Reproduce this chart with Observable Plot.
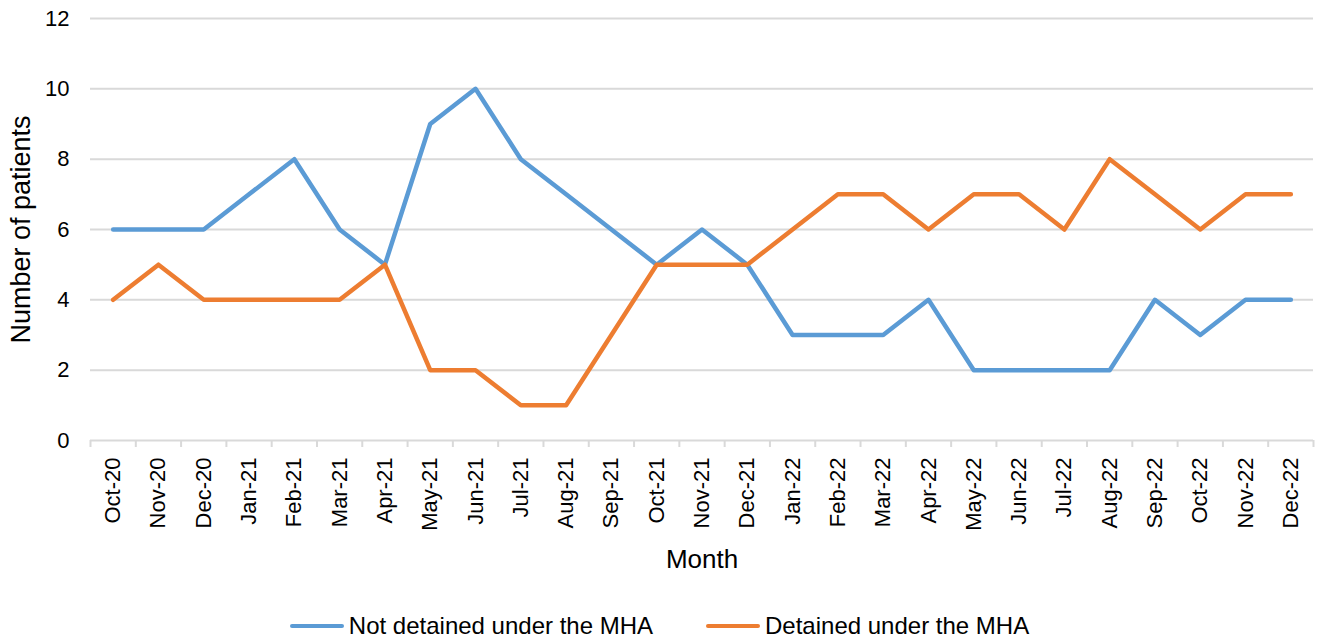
<!DOCTYPE html>
<html>
<head>
<meta charset="utf-8">
<script src="https://cdn.jsdelivr.net/npm/d3@7"></script>
<script src="https://cdn.jsdelivr.net/npm/@observablehq/plot@0.6"></script>
<style>
  html, body { margin: 0; padding: 0; background: #fff; }
  body { width: 1319px; height: 641px; overflow: hidden; font-family: "Liberation Sans", Arial, sans-serif; }
  #chart svg { display: block; }
  .legend { display: flex; justify-content: center; align-items: center; height: 31px; padding-top: 4px; font-size: 24px; color: #000; }
  .legend .item { display: flex; align-items: center; }
  .legend .swatch { width: 54px; height: 4px; border-radius: 2px; margin-right: 5px; }
  .legend .gap { width: 53px; }
</style>
</head>
<body>
<div id="chart"></div>
<div class="legend" id="legend"></div>
<script>
const months = ["Oct-20","Nov-20","Dec-20","Jan-21","Feb-21","Mar-21","Apr-21","May-21","Jun-21","Jul-21","Aug-21","Sep-21","Oct-21","Nov-21","Dec-21","Jan-22","Feb-22","Mar-22","Apr-22","May-22","Jun-22","Jul-22","Aug-22","Sep-22","Oct-22","Nov-22","Dec-22"];
const notDetained = [6,6,6,7,8,6,5,9,10,8,7,6,5,6,5,3,3,3,4,2,2,2,2,4,3,4,4];
const detained    = [4,5,4,4,4,4,5,2,2,1,1,3,5,5,5,6,7,7,6,7,7,6,8,7,6,7,7];
const seriesNames = ["Not detained under the MHA", "Detained under the MHA"];
const seriesColors = ["#5B9BD5", "#ED7D31"];
const yTicks = [0,2,4,6,8,10,12];

const rows = [];
months.forEach((m, i) => {
  rows.push({i, month: m, value: notDetained[i], series: seriesNames[0]});
  rows.push({i, month: m, value: detained[i], series: seriesNames[1]});
});
const idx = d3.range(months.length);
const bounds = d3.range(months.length + 1).map(i => i - 0.5);

const chart = Plot.plot({
  width: 1319,
  height: 606,
  marginLeft: 90,
  marginRight: 6,
  marginTop: 18,
  marginBottom: 166,
  style: {fontFamily: "'Liberation Sans', Arial, sans-serif", fontSize: "22px", color: "#000", background: "#fff"},
  x: {type: "linear", domain: [-0.5, months.length - 0.5]},
  y: {domain: [0, 12]},
  color: {domain: seriesNames, range: seriesColors},
  marks: [
    Plot.gridY({ticks: yTicks, stroke: "#d9d9d9", strokeOpacity: 1, strokeWidth: 2}),
    Plot.axisX({ticks: bounds, tickSize: 7, tickFormat: () => "", stroke: "#d9d9d9", strokeWidth: 2, strokeOpacity: 1, label: null}),
    Plot.axisX({ticks: idx, tickSize: 0, tickPadding: 17, tickRotate: -90, tickFormat: i => months[i], fontSize: 22, label: "Month", labelAnchor: "center", labelArrow: "none", labelOffset: 127}),
    Plot.axisY({ticks: yTicks, tickSize: 0, tickPadding: 21, fontSize: 22, label: "Number of patients", labelAnchor: "center", labelArrow: "none", labelOffset: 80}),
    Plot.line(rows, {x: "i", y: "value", z: "series", stroke: "series", strokeWidth: 4.5, strokeLinejoin: "round", strokeLinecap: "round"})
  ]
});
chart.querySelectorAll("g[aria-label='x-axis label'] text").forEach(t => t.setAttribute("font-size", "26"));
chart.querySelectorAll("g[aria-label='y-axis label'] text").forEach(t => t.setAttribute("font-size", "27"));
document.getElementById("chart").appendChild(chart);

const legend = document.getElementById("legend");
seriesNames.forEach((name, k) => {
  if (k > 0) { const g = document.createElement("span"); g.className = "gap"; legend.appendChild(g); }
  const item = document.createElement("span");
  item.className = "item";
  const sw = document.createElement("span");
  sw.className = "swatch";
  sw.style.background = seriesColors[k];
  const label = document.createElement("span");
  label.textContent = name;
  item.appendChild(sw);
  item.appendChild(label);
  legend.appendChild(item);
});
</script>
</body>
</html>
